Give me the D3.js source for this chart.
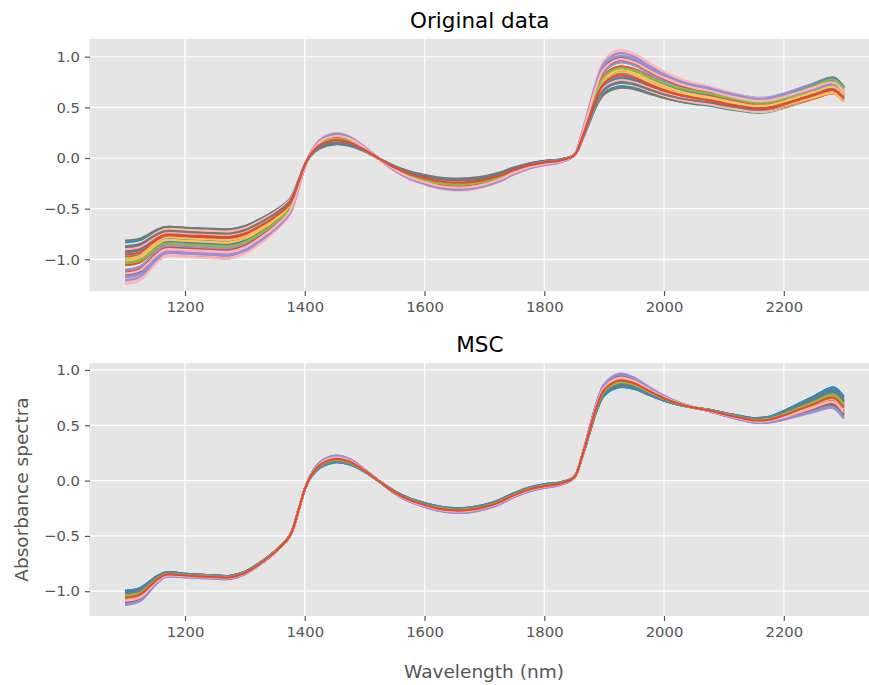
<!DOCTYPE html>
<html>
<head>
<meta charset="utf-8">
<script src="https://cdn.jsdelivr.net/npm/d3@7"></script>
<style>
  html, body { margin: 0; padding: 0; background: #fff; }
  svg { display: block; font-family: "DejaVu Sans", sans-serif; }
</style>
</head>
<body>
<svg id="chart" width="869" height="685"></svg>
<script>
// ---- data ----
const wavelengths = [1100,1125,1150,1165,1175,1200,1225,1250,1275,1300,1325,1350,1375,1390,1400,1410,1425,1450,1475,1500,1525,1550,1575,1600,1625,1650,1675,1700,1725,1750,1775,1800,1825,1850,1862,1875,1887,1900,1925,1950,1975,2000,2025,2050,2075,2100,2125,2150,2175,2200,2225,2250,2275,2285,2300];
// mean MSC-corrected spectrum
const mscMean = [-1.06,-1.03,-0.91,-0.855,-0.848,-0.858,-0.865,-0.872,-0.875,-0.835,-0.75,-0.645,-0.50,-0.26,-0.08,0.04,0.14,0.195,0.17,0.09,-0.01,-0.105,-0.175,-0.22,-0.255,-0.27,-0.265,-0.24,-0.195,-0.13,-0.08,-0.05,-0.03,0.03,0.20,0.44,0.66,0.82,0.905,0.88,0.81,0.745,0.695,0.66,0.635,0.60,0.57,0.545,0.55,0.59,0.64,0.69,0.745,0.745,0.66];
// residual spread shape of the MSC spectra
const mscSpread = [0.065,0.06,0.035,0.022,0.02,0.016,0.015,0.015,0.014,0.012,0.008,0.005,0.002,0,0,-0.01,-0.025,-0.03,-0.025,-0.01,0.0,0.01,0.015,0.018,0.02,0.022,0.022,0.02,0.02,0.018,0.017,0.016,0.012,0.005,-0.005,-0.02,-0.035,-0.05,-0.06,-0.05,-0.035,-0.022,-0.01,0.0,0.006,0.012,0.016,0.02,0.026,0.04,0.055,0.07,0.088,0.095,0.1];
// per-sample multiplicative scatter factor (original = factor * corrected)
const sampleScale = [0.95,0.81,1.11,0.82,0.83,0.98,1.09,0.86,0.96,1.04,0.94,0.90,0.97,0.84,1.01,0.87,1.07,1.05,0.94,0.96,1.10,0.92,0.90,1.00,0.89,0.93,0.99,1.12,0.88,0.95,1.02,0.97,0.91,0.96,1.06,1.03,0.93,1.09,1.04,0.93,0.98,0.87,0.97,0.99,1.08,0.86,0.95,1.00,1.05,0.90];
// per-sample residual score
const sampleScore = [0.4,0.5,-0.4,1.0,0.2,0.5,-0.9,-0.1,0.6,-1.0,-0.4,0.8,-0.2,0.3,0.2,0.9,-0.6,0.1,0.4,-0.3,-0.5,-0.2,1.0,-0.7,-0.3,0.6,0.0,-0.8,0.2,0.7,-0.8,0.3,-0.5,0.1,-0.2,-0.6,0.9,-0.3,-0.7,0.5,0.0,0.4,-0.4,0.5,-0.9,0.6,-0.1,0.3,-0.4,0.0];
const colorCycle = ['#E24A33','#348ABD','#988ED5','#777777','#FBC15E','#8EBA42','#FFB5B8'];
const xTicks = [1200,1400,1600,1800,2000,2200];
const yTicks = [-1.0,-0.5,0.0,0.5,1.0];
const titles = ["Original data", "MSC"];
const xLabel = "Wavelength (nm)";
const yLabel = "Absorbance spectra";

// build series
const mscSeries = sampleScore.map(c => wavelengths.map((w, k) => [w, mscMean[k] + c * mscSpread[k]]));
const origSeries = mscSeries.map((s, i) => s.map(([w, v]) => [w, v * sampleScale[i]]));

// ---- layout ----
const svg = d3.select("#chart");
const panels = [
  { series: origSeries, title: titles[0], top: 39, bottom: 291, yDomain: [-1.313, 1.175] },
  { series: mscSeries,  title: titles[1], top: 363, bottom: 616, yDomain: [-1.224, 1.063] }
];
const left = 89.2, right = 879.6;
const x = d3.scaleLinear().domain([1040, 2360]).range([left, right]);
const fmt = v => (v < 0 ? "\u2212" : "") + Math.abs(v).toFixed(1);

panels.forEach((p, pi) => {
  const y = d3.scaleLinear().domain(p.yDomain).range([p.bottom, p.top]);
  const g = svg.append("g");
  const clipId = "clip" + pi;
  svg.append("clipPath").attr("id", clipId)
    .append("rect").attr("x", left).attr("y", p.top).attr("width", right - left).attr("height", p.bottom - p.top);

  g.append("rect").attr("x", left).attr("y", p.top).attr("width", right - left).attr("height", p.bottom - p.top)
    .attr("fill", "#E5E5E5");

  // grid
  g.selectAll(".gx").data(xTicks).enter().append("line")
    .attr("x1", d => x(d)).attr("x2", d => x(d)).attr("y1", p.top).attr("y2", p.bottom)
    .attr("stroke", "#fff").attr("stroke-width", 1.2);
  g.selectAll(".gy").data(yTicks).enter().append("line")
    .attr("x1", left).attr("x2", right).attr("y1", d => y(d)).attr("y2", d => y(d))
    .attr("stroke", "#fff").attr("stroke-width", 1.2);

  // spectra
  const line = d3.line().x(d => x(d[0])).y(d => y(d[1])).curve(d3.curveCatmullRom.alpha(0.5));
  g.append("g").attr("clip-path", `url(#${clipId})`)
    .selectAll("path").data(p.series).enter().append("path")
    .attr("d", line).attr("fill", "none")
    .attr("stroke", (d, i) => colorCycle[i % colorCycle.length])
    .attr("stroke-width", 2.2).attr("stroke-linejoin", "round");

  // axes
  const xAxis = d3.axisBottom(x).tickValues(xTicks).tickSize(5).tickPadding(5).tickFormat(d3.format("d"));
  const yAxis = d3.axisLeft(y).tickValues(yTicks).tickSize(5).tickPadding(5).tickFormat(fmt);
  const gx = g.append("g").attr("transform", `translate(0,${p.bottom})`).call(xAxis);
  const gy = g.append("g").attr("transform", `translate(${left + 0.8},0)`).call(yAxis);
  [gx, gy].forEach(a => {
    a.select(".domain").remove();
    a.selectAll(".tick line").attr("stroke", "#555555").attr("stroke-width", 1.2);
    a.selectAll(".tick text").attr("fill", "#555555").style("font-size", "14.8px")
      .style("font-family", "'DejaVu Sans', sans-serif");
  });

  // title
  svg.append("text").attr("x", (left + right) / 2 - 4.6).attr("y", p.top - 11.5)
    .attr("text-anchor", "middle").style("font-size", "21.5px").attr("fill", "#000")
    .text(p.title);

  if (pi === 1) {
    svg.append("text").attr("transform", `translate(27.5,${(p.top + p.bottom) / 2}) rotate(-90)`)
      .attr("text-anchor", "middle").style("font-size", "18.5px").attr("fill", "#555555")
      .text(yLabel);
  }
});

svg.append("text").attr("x", 484).attr("y", 678)
  .attr("text-anchor", "middle").style("font-size", "18.5px").attr("fill", "#555555")
  .text(xLabel);
</script>
</body>
</html>
